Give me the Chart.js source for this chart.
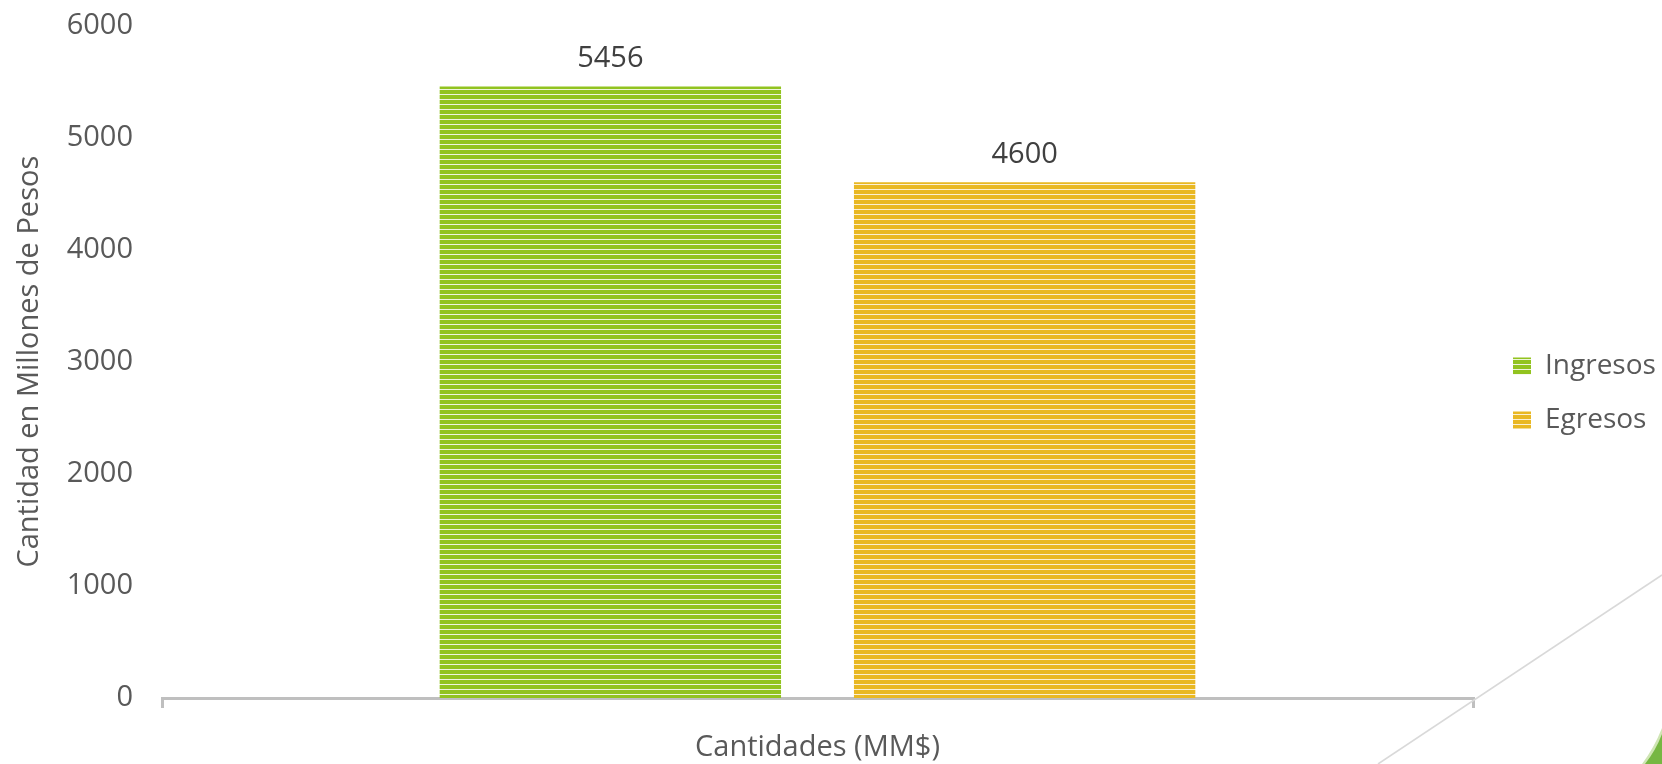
<!DOCTYPE html>
<html>
<head>
<meta charset="utf-8">
<script src="https://cdn.jsdelivr.net/npm/chart.js@4/dist/chart.umd.min.js"></script>
<style>
    html, body { margin: 0; padding: 0; background: #ffffff; }
    #chartBox { width: 1662px; height: 764px; }
</style>
</head>
<body>
<div id="chartBox"><canvas id="mainChart" width="1662" height="764"></canvas></div>
<script>
const categories = ['Cantidades (MM$)'];
const seriesNames = ['Ingresos', 'Egresos'];
const ingresosValues = [5456];
const egresosValues = [4600];
const yTicks = [0, 1000, 2000, 3000, 4000, 5000, 6000];

const fontFamily = '"Open Sans", "Noto Sans", sans-serif';
const textColor = '#595959';
const axisColor = '#bfbfbf';

const chartContext = document.getElementById('mainChart').getContext('2d');

function stripePattern(baseColor, lineColor) {
    const tile = document.createElement('canvas');
    tile.width = 8;
    tile.height = 5;
    const g = tile.getContext('2d');
    g.fillStyle = baseColor;
    g.fillRect(0, 0, 8, 5);
    g.fillStyle = lineColor;
    g.fillRect(0, 4, 8, 1);
    return chartContext.createPattern(tile, 'repeat');
}

const greenFill = stripePattern('#92c31f', '#eef5dc');
const goldFill = stripePattern('#e9b823', '#fbf0d2');

// value labels above each bar
const valueLabels = {
    id: 'valueLabels',
    afterDatasetsDraw(chart) {
        const ctx = chart.ctx;
        ctx.save();
        ctx.font = '29px ' + fontFamily;
        ctx.fillStyle = '#404040';
        ctx.textAlign = 'center';
        ctx.textBaseline = 'middle';
        chart.data.datasets.forEach(function (dataset, i) {
            chart.getDatasetMeta(i).data.forEach(function (bar, j) {
                ctx.fillText(String(dataset.data[j]), bar.x, bar.y - 28);
            });
        });
        ctx.restore();
    }
};

// slide decoration in the lower right corner
const slideDecor = {
    id: 'slideDecor',
    afterDraw(chart) {
        const ctx = chart.ctx;
        const w = chart.width;
        const h = chart.height;
        ctx.save();
        ctx.strokeStyle = '#d9d9d9';
        ctx.lineWidth = 1.6;
        ctx.beginPath();
        ctx.moveTo(w, 575);
        ctx.lineTo(w - 284, h);
        ctx.stroke();

        ctx.fillStyle = '#cfe5b4';
        ctx.beginPath();
        ctx.moveTo(w - 20, h);
        ctx.quadraticCurveTo(w - 8, h - 16, w, h - 36);
        ctx.lineTo(w, h);
        ctx.closePath();
        ctx.fill();

        ctx.fillStyle = '#76b742';
        ctx.beginPath();
        ctx.moveTo(w - 17, h);
        ctx.quadraticCurveTo(w - 6, h - 14, w, h - 30);
        ctx.lineTo(w, h);
        ctx.closePath();
        ctx.fill();
        ctx.restore();
    }
};

const config = {
    type: 'bar',
    data: {
        labels: categories,
        datasets: [{
            label: seriesNames[0],
            data: ingresosValues,
            backgroundColor: greenFill,
            borderWidth: 0
        }, {
            label: seriesNames[1],
            data: egresosValues,
            backgroundColor: goldFill,
            borderWidth: 0
        }]
    },
    options: {
        responsive: false,
        animation: false,
        devicePixelRatio: 1,
        categoryPercentage: 0.632,
        barPercentage: 0.824,
        layout: {
            padding: { top: 22, right: 0, bottom: 0, left: 0 }
        },
        scales: {
            x: {
                grid: {
                    display: true,
                    drawOnChartArea: false,
                    drawTicks: true,
                    tickLength: 10,
                    color: axisColor,
                    lineWidth: 3,
                    offset: true
                },
                border: { display: true, color: axisColor, width: 3 },
                ticks: {
                    color: textColor,
                    padding: 22,
                    font: { size: 29, family: fontFamily }
                },
                afterFit(scale) {
                    scale.height = 66;
                }
            },
            y: {
                min: 0,
                max: yTicks[yTicks.length - 1],
                afterBuildTicks(scale) {
                    scale.ticks = yTicks.map(function (v) { return { value: v }; });
                },
                grid: { display: false, drawTicks: true, tickLength: 21 },
                border: { display: false },
                ticks: {
                    color: textColor,
                    padding: 8,
                    font: { size: 29, family: fontFamily },
                    callback: function (value) { return String(value); }
                },
                title: {
                    display: true,
                    text: 'Cantidad en Millones de Pesos',
                    color: textColor,
                    padding: { top: 12, bottom: 0 },
                    font: { size: 29, family: fontFamily }
                },
                afterFit(scale) {
                    scale.width = 162;
                }
            },
            spacer: {
                type: 'linear',
                position: 'right',
                display: true,
                grid: { display: false, drawTicks: false },
                border: { display: false },
                ticks: { display: false },
                afterFit(scale) {
                    scale.width = 14;
                }
            }
        },
        plugins: {
            legend: {
                position: 'right',
                maxWidth: 175,
                labels: {
                    color: textColor,
                    boxWidth: 18,
                    boxHeight: 17,
                    padding: 26,
                    font: { size: 28, family: fontFamily }
                }
            },
            tooltip: { enabled: false }
        }
    },
    plugins: [valueLabels, slideDecor]
};

const mainChart = new Chart(chartContext, config);
</script>
</body>
</html>
